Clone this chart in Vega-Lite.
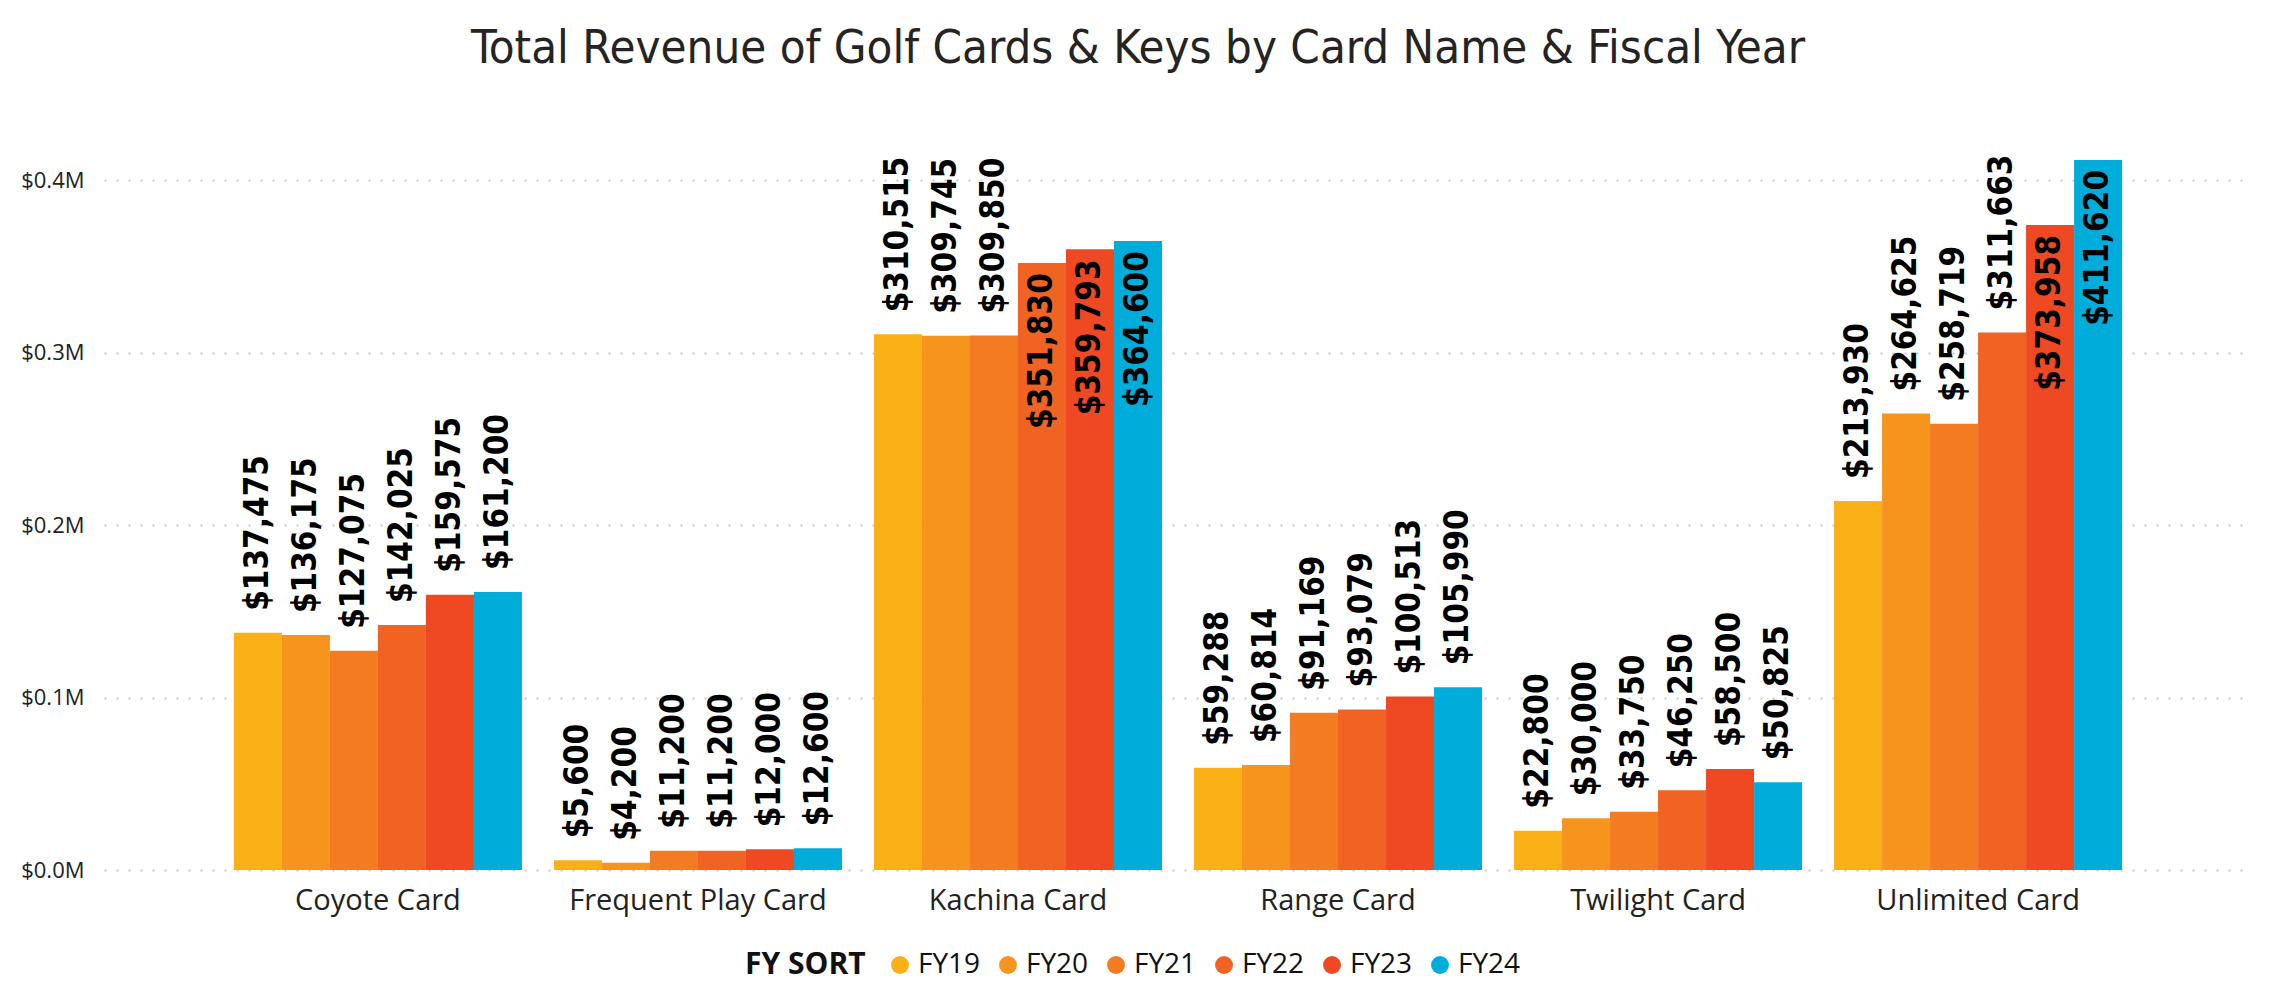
{
  "$schema": "https://vega.github.io/schema/vega-lite/v6.json",
  "autosize": {"type": "none"},
  "padding": {"left": 104, "top": 111, "right": 19, "bottom": 135},
  "width": 2148,
  "height": 759,
  "background": "white",
  "title": {
    "text": "Total Revenue of Golf Cards & Keys by Card Name & Fiscal Year",
    "font": "'DejaVu Sans Condensed', 'DejaVu Sans'",
    "fontSize": 47,
    "fontWeight": "normal",
    "color": "#252423",
    "anchor": "middle",
    "baseline": "alphabetic",
    "offset": 1,
    "dx": -40
  },
  "data": {
    "values": [
      {"card": "Coyote Card", "fy": "FY19", "revenue": 137475},
      {"card": "Coyote Card", "fy": "FY20", "revenue": 136175},
      {"card": "Coyote Card", "fy": "FY21", "revenue": 127075},
      {"card": "Coyote Card", "fy": "FY22", "revenue": 142025},
      {"card": "Coyote Card", "fy": "FY23", "revenue": 159575},
      {"card": "Coyote Card", "fy": "FY24", "revenue": 161200},
      {"card": "Frequent Play Card", "fy": "FY19", "revenue": 5600},
      {"card": "Frequent Play Card", "fy": "FY20", "revenue": 4200},
      {"card": "Frequent Play Card", "fy": "FY21", "revenue": 11200},
      {"card": "Frequent Play Card", "fy": "FY22", "revenue": 11200},
      {"card": "Frequent Play Card", "fy": "FY23", "revenue": 12000},
      {"card": "Frequent Play Card", "fy": "FY24", "revenue": 12600},
      {"card": "Kachina Card", "fy": "FY19", "revenue": 310515},
      {"card": "Kachina Card", "fy": "FY20", "revenue": 309745},
      {"card": "Kachina Card", "fy": "FY21", "revenue": 309850},
      {"card": "Kachina Card", "fy": "FY22", "revenue": 351830},
      {"card": "Kachina Card", "fy": "FY23", "revenue": 359793},
      {"card": "Kachina Card", "fy": "FY24", "revenue": 364600},
      {"card": "Range Card", "fy": "FY19", "revenue": 59288},
      {"card": "Range Card", "fy": "FY20", "revenue": 60814},
      {"card": "Range Card", "fy": "FY21", "revenue": 91169},
      {"card": "Range Card", "fy": "FY22", "revenue": 93079},
      {"card": "Range Card", "fy": "FY23", "revenue": 100513},
      {"card": "Range Card", "fy": "FY24", "revenue": 105990},
      {"card": "Twilight Card", "fy": "FY19", "revenue": 22800},
      {"card": "Twilight Card", "fy": "FY20", "revenue": 30000},
      {"card": "Twilight Card", "fy": "FY21", "revenue": 33750},
      {"card": "Twilight Card", "fy": "FY22", "revenue": 46250},
      {"card": "Twilight Card", "fy": "FY23", "revenue": 58500},
      {"card": "Twilight Card", "fy": "FY24", "revenue": 50825},
      {"card": "Unlimited Card", "fy": "FY19", "revenue": 213930},
      {"card": "Unlimited Card", "fy": "FY20", "revenue": 264625},
      {"card": "Unlimited Card", "fy": "FY21", "revenue": 258719},
      {"card": "Unlimited Card", "fy": "FY22", "revenue": 311663},
      {"card": "Unlimited Card", "fy": "FY23", "revenue": 373958},
      {"card": "Unlimited Card", "fy": "FY24", "revenue": 411620}
    ]
  },
  "encoding": {
    "x": {
      "field": "card",
      "type": "nominal",
      "sort": ["Coyote Card", "Frequent Play Card", "Kachina Card", "Range Card", "Twilight Card", "Unlimited Card"],
      "scale": {"paddingInner": 0.1, "paddingOuter": 0.406},
      "axis": {
        "title": null,
        "domain": false,
        "ticks": false,
        "grid": false,
        "labelAngle": 0,
        "labelFont": "Open Sans",
        "labelFontSize": 29,
        "labelColor": "#222222",
        "labelPadding": 16,
        "labelLimit": 0
      }
    },
    "xOffset": {
      "field": "fy",
      "type": "nominal",
      "sort": ["FY19", "FY20", "FY21", "FY22", "FY23", "FY24"],
      "scale": {"paddingInner": 0, "paddingOuter": 0}
    },
    "y": {
      "field": "revenue",
      "type": "quantitative",
      "scale": {"domain": [0, 440000], "nice": false},
      "axis": {
        "title": null,
        "domain": false,
        "ticks": false,
        "values": [0, 100000, 200000, 300000, 400000],
        "labelExpr": "'$' + format(datum.value / 1000000, '.1f') + 'M'",
        "labelFont": "Open Sans",
        "labelFontSize": 22,
        "labelColor": "#222222",
        "labelPadding": 20,
        "grid": true,
        "gridColor": "#c8c8c8",
        "gridDash": [2, 10],
        "gridWidth": 2
      }
    }
  },
  "layer": [
    {
      "mark": {"type": "bar"},
      "encoding": {
        "color": {
          "field": "fy",
          "type": "nominal",
          "sort": ["FY19", "FY20", "FY21", "FY22", "FY23", "FY24"],
          "scale": {
            "domain": ["FY19", "FY20", "FY21", "FY22", "FY23", "FY24"],
            "range": ["#FBB017", "#F6941E", "#F37B21", "#F16323", "#EF4924", "#00ADDA"]
          },
          "legend": {
            "title": "FY SORT",
            "orient": "none",
            "legendX": 641,
            "legendY": 840,
            "direction": "horizontal",
            "titleOrient": "left",
            "titleAnchor": "middle",
            "titleBaseline": "middle",
            "titleFont": "Open Sans",
            "titleFontSize": 30,
            "titleFontWeight": "bold",
            "titleColor": "#111111",
            "titlePadding": 20,
            "labelFont": "Open Sans",
            "labelFontSize": 28,
            "labelColor": "#111111",
            "labelOffset": 4,
            "columnPadding": 13,
            "symbolType": "circle",
            "symbolSize": 320,
            "symbolStrokeWidth": 0,
            "symbolOpacity": 1
          }
        }
      }
    },
    {
      "transform": [{"filter": "datum.revenue <= 340000"}],
      "mark": {
        "type": "text",
        "angle": 270,
        "align": "left",
        "baseline": "middle",
        "dx": 22,
        "font": "'DejaVu Sans Condensed', 'DejaVu Sans'",
        "fontSize": 33,
        "fontWeight": "bold",
        "color": "#000000"
      },
      "encoding": {
        "text": {"field": "revenue", "type": "quantitative", "format": "$,.0f"}
      }
    },
    {
      "transform": [{"filter": "datum.revenue > 340000"}],
      "mark": {
        "type": "text",
        "angle": 270,
        "align": "right",
        "baseline": "middle",
        "dx": -10,
        "font": "'DejaVu Sans Condensed', 'DejaVu Sans'",
        "fontSize": 33,
        "fontWeight": "bold",
        "color": "#000000"
      },
      "encoding": {
        "text": {"field": "revenue", "type": "quantitative", "format": "$,.0f"}
      }
    }
  ],
  "config": {
    "view": {"stroke": null}
  }
}
